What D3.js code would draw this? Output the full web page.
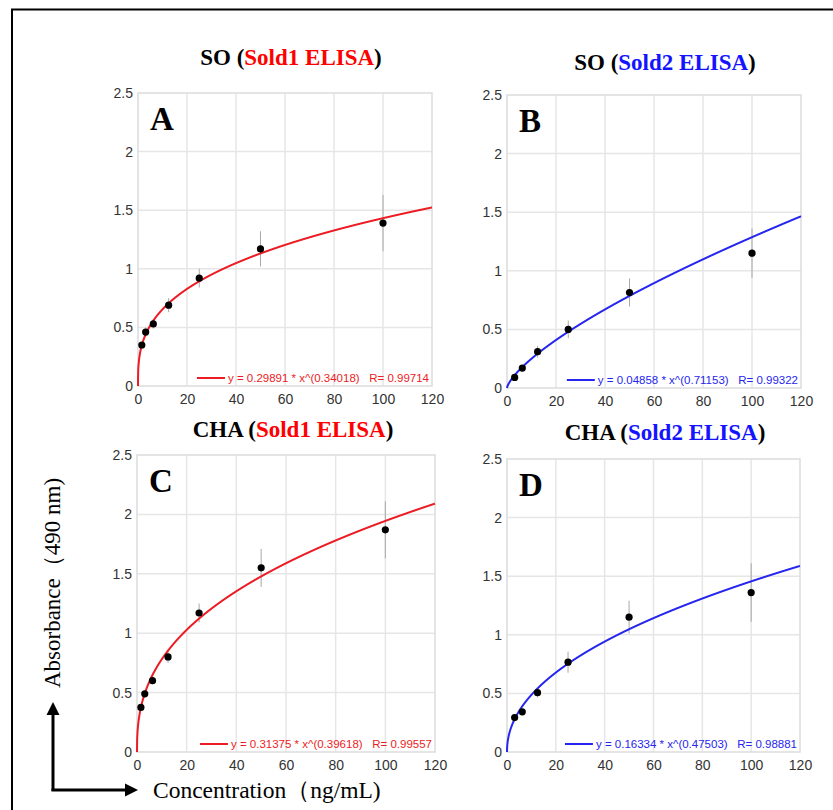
<!DOCTYPE html>
<html>
<head>
<meta charset="utf-8">
<script src="https://cdn.jsdelivr.net/npm/d3@7/dist/d3.min.js"></script>
<style>
  html, body { margin: 0; padding: 0; background: #fff; }
  svg { display: block; }
</style>
</head>
<body>
<svg id="chart" width="833" height="810"></svg>
<script>
// ---------------- data ----------------
const concentrations = [1.5625, 3.125, 6.25, 12.5, 25, 50, 100];
const panelLetters = ["A", "B", "C", "D"];
const analytes = ["SO", "SO", "CHA", "CHA"];
const assays = ["Sold1 ELISA", "Sold2 ELISA", "Sold1 ELISA", "Sold2 ELISA"];

const meanA = [0.35, 0.46, 0.53, 0.69, 0.92, 1.17, 1.39];
const errA  = [0.02, 0.04, 0.04, 0.06, 0.08, 0.15, 0.24];
const meanB = [null, 0.09, 0.17, 0.31, 0.50, 0.815, 1.15];
const errB  = [0, 0.02, 0.02, 0.05, 0.075, 0.12, 0.21];
const meanC = [0.375, 0.49, 0.60, 0.80, 1.17, 1.55, 1.87];
const errC  = [0.02, 0.03, 0.03, 0.05, 0.08, 0.16, 0.24];
const meanD = [null, 0.294, 0.343, 0.506, 0.766, 1.15, 1.36];
const errD  = [0, 0.02, 0.02, 0.04, 0.09, 0.14, 0.25];

// fitted power curves y = a * x^b
const fitA = [0.29891, 0.04858, 0.31375, 0.16334];
const fitB = [0.34018, 0.71153, 0.39618, 0.47503];
const fitR = [0.99714, 0.99322, 0.99557, 0.98881];
const fitLabelA = ["0.29891", "0.04858", "0.31375", "0.16334"];
const fitLabelB = ["0.34018", "0.71153", "0.39618", "0.47503"];
const fitLabelR = ["0.99714", "0.99322", "0.99557", "0.98881"];

const xTicks = [0, 20, 40, 60, 80, 100, 120];
const yTicks = [0, 0.5, 1, 1.5, 2, 2.5];
const xDomain = [0, 120];
const yDomain = [0, 2.5];

const yAxisTitle = "Absorbance（490 nm)";
const xAxisTitle = "Concentration（ng/mL)";

// ---------------- layout & style ----------------
const means = [meanA, meanB, meanC, meanD];
const errs = [errA, errB, errC, errD];
const layout = [
  { left: 138, right: 432, top: 93, bottom: 386, titleX: 291, titleY: 65 },
  { left: 507, right: 801, top: 95, bottom: 388, titleX: 665, titleY: 70 },
  { left: 137, right: 435, top: 455, bottom: 752, titleX: 293, titleY: 437 },
  { left: 507, right: 800, top: 459, bottom: 752, titleX: 665, titleY: 440 }
];
const curveColors = ["#ec1c24", "#2626ee", "#ec1c24", "#2626ee"];
const titleColors = ["#ff0000", "#1414ff", "#ff0000", "#1414ff"];
const serif = "'Liberation Serif', 'Times New Roman', Times, serif";
const sans = "'Liberation Sans', Arial, Helvetica, sans-serif";

const svg = d3.select("#chart");

// figure frame
svg.append("path")
  .attr("d", "M12,810 L12,9.5 L833,9.5")
  .attr("fill", "none").attr("stroke", "#000").attr("stroke-width", 2);

panelLetters.forEach((letter, i) => {
  const L = layout[i];
  const x = d3.scaleLinear().domain(xDomain).range([L.left, L.right]);
  const y = d3.scaleLinear().domain(yDomain).range([L.bottom, L.top]);
  const g = svg.append("g");

  // grid
  g.append("g").selectAll("line").data(xTicks.slice(1, -1)).join("line")
    .attr("x1", d => x(d)).attr("x2", d => x(d))
    .attr("y1", L.top).attr("y2", L.bottom)
    .attr("stroke", "#e6e6e6").attr("stroke-width", 1.5);
  g.append("g").selectAll("line").data(yTicks.slice(1, -1)).join("line")
    .attr("y1", d => y(d)).attr("y2", d => y(d))
    .attr("x1", L.left).attr("x2", L.right)
    .attr("stroke", "#e6e6e6").attr("stroke-width", 1.5);
  g.append("rect")
    .attr("x", L.left).attr("y", L.top)
    .attr("width", L.right - L.left).attr("height", L.bottom - L.top)
    .attr("fill", "none").attr("stroke", "#dcdcdc").attr("stroke-width", 1.5);

  // axes (labels only)
  const xAxis = d3.axisBottom(x).tickValues(xTicks).tickSize(0).tickPadding(8).tickFormat(d3.format("d"));
  const yAxis = d3.axisLeft(y).tickValues(yTicks).tickSize(0).tickPadding(5).tickFormat(d => String(d));
  const gx = g.append("g").attr("transform", `translate(0,${L.bottom})`).call(xAxis);
  const gy = g.append("g").attr("transform", `translate(${L.left},0)`).call(yAxis);
  [gx, gy].forEach(a => {
    a.select(".domain").remove();
    a.selectAll("text").attr("font-family", sans).attr("font-size", 14).attr("fill", "#333");
  });

  // error bars
  const pts = concentrations.map((c, k) => ({ c, m: means[i][k], e: errs[i][k] })).filter(d => d.m !== null);
  g.append("g").selectAll("line").data(pts).join("line")
    .attr("x1", d => x(d.c)).attr("x2", d => x(d.c))
    .attr("y1", d => y(d.m - d.e)).attr("y2", d => y(d.m + d.e))
    .attr("stroke", "#a8a8a8").attr("stroke-width", 1);

  // fitted curve
  const xs = d3.range(0, 120.001, 0.05);
  const line = d3.line().x(d => x(d)).y(d => y(fitA[i] * Math.pow(d, fitB[i])));
  g.append("path").datum(xs).attr("d", line)
    .attr("fill", "none").attr("stroke", curveColors[i]).attr("stroke-width", 2);

  // points
  g.append("g").selectAll("circle").data(pts).join("circle")
    .attr("cx", d => x(d.c)).attr("cy", d => y(d.m)).attr("r", 3.6)
    .attr("fill", "#000");

  // legend
  const legY = L.bottom - 8;
  const legText = g.append("text")
    .attr("x", L.right - 3).attr("y", legY + 4)
    .attr("text-anchor", "end")
    .attr("font-family", sans).attr("font-size", 11.5)
    .attr("fill", curveColors[i])
    .attr("xml:space", "preserve")
    .text(`y = ${fitLabelA[i]} * x^(${fitLabelB[i]})   R= ${fitLabelR[i]}`);
  const bb = legText.node().getBBox();
  g.append("line")
    .attr("x1", bb.x - 31).attr("x2", bb.x - 3)
    .attr("y1", legY).attr("y2", legY)
    .attr("stroke", curveColors[i]).attr("stroke-width", 2);

  // panel letter
  g.append("text")
    .attr("x", L.left + 12).attr("y", L.top + 37)
    .attr("font-family", serif).attr("font-weight", "bold").attr("font-size", 33)
    .attr("fill", "#000").text(letter);

  // title
  const t = svg.append("text")
    .attr("x", L.titleX).attr("y", L.titleY)
    .attr("text-anchor", "middle")
    .attr("font-family", serif).attr("font-weight", "bold").attr("font-size", 23)
    .attr("fill", "#000");
  t.append("tspan").text(`${analytes[i]} (`);
  t.append("tspan").attr("fill", titleColors[i]).text(assays[i]);
  t.append("tspan").text(")");
});

// axis titles
svg.append("text")
  .attr("transform", "translate(60,583) rotate(-90)")
  .attr("text-anchor", "middle")
  .attr("font-family", serif).attr("font-size", 23).attr("fill", "#000")
  .text(yAxisTitle);
svg.append("text")
  .attr("x", 153).attr("y", 798)
  .attr("font-family", serif).attr("font-size", 23.5).attr("fill", "#000")
  .text(xAxisTitle);

// arrows
svg.append("line").attr("x1", 53).attr("y1", 791).attr("x2", 53).attr("y2", 712)
  .attr("stroke", "#000").attr("stroke-width", 3);
svg.append("path").attr("d", "M53,702 L46.5,715 L59.5,715 Z").attr("fill", "#000");
svg.append("line").attr("x1", 51.5).attr("y1", 790).attr("x2", 128).attr("y2", 790)
  .attr("stroke", "#000").attr("stroke-width", 3);
svg.append("path").attr("d", "M138,790 L125,783.5 L125,796.5 Z").attr("fill", "#000");
</script>
</body>
</html>
